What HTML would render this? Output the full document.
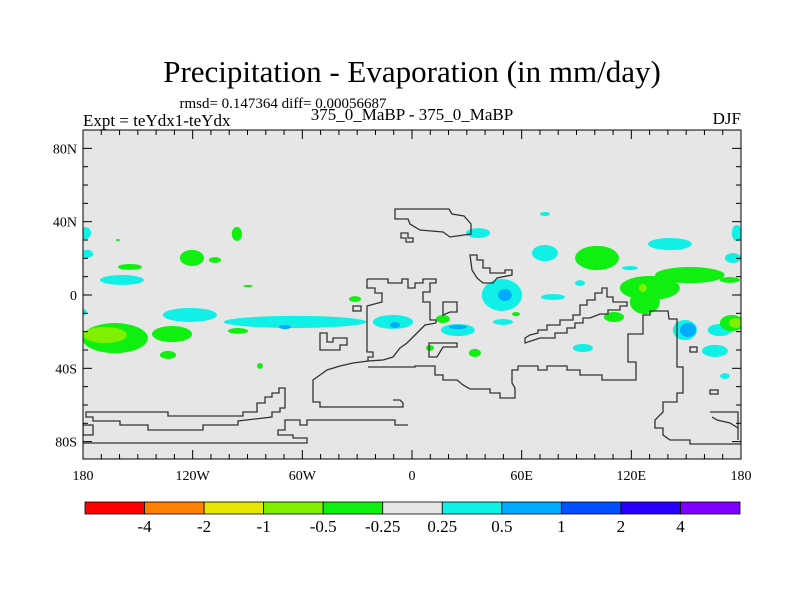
<!DOCTYPE html>
<html><head><meta charset="utf-8">
<style>
body{margin:0;background:#fff;}
svg{display:block;font-family:"Liberation Serif",serif;}
</style></head>
<body>
<svg id="chart" width="800" height="600" viewBox="0 0 800 600">
<rect x="0" y="0" width="800" height="600" fill="#fff"/>
<text x="412" y="82" font-size="31" text-anchor="middle">Precipitation - Evaporation (in mm/day)</text>
<text x="283" y="108" font-size="15" text-anchor="middle">rmsd= 0.147364 diff= 0.00056687</text>
<text x="83" y="126" font-size="17">Expt = teYdx1-teYdx</text>
<text x="412" y="120" font-size="17" text-anchor="middle">375_0_MaBP - 375_0_MaBP</text>
<text x="741" y="124" font-size="17" text-anchor="end">DJF</text>
<defs><clipPath id="pc"><rect x="83" y="130" width="658" height="329"/></clipPath></defs>
<rect x="83" y="130" width="658" height="329" fill="#e6e6e6"/>
<g id="blobs" clip-path="url(#pc)"></g>
<g fill="none" stroke="#333" stroke-width="1.3" clip-path="url(#pc)">
<polygon points="395,209 449,209 452,214 464,216 471,224 471,234 450,237 443,232 420,230 410,224 408,219 395,219"/>
<polygon points="401,233 408,233 408,238 413,238 413,242 406,242 406,238 401,238"/>
<polyline points="436,323 425,325 418,332 413,337 407,343 400,348 393,357 383,360 368,361"/>
<polyline points="367,279 388,279 388,283 402,283 402,279 408,279 408,288 415,288 415,283 423,283 423,279 436,279 436,283 430,283 430,292 423,292 423,302 430,302 430,320 436,320 436,323"/>
<polyline points="367,279 367,288 375,288 375,293 382,293 382,302 367,306 367,352 373,352 373,357 368,357 368,361 353,363 340,366 327,370 320,375 313,380 313,402 320,402 320,407 403,407 403,403 400,400 393,400"/>
<polyline points="368,367 415,367 415,366 435,366 435,375 443,375 443,380 457,380 463,385 470,389 490,389 490,393 500,393 500,398 515,398 515,388 512,383 512,370 518,370 518,366 538,366 538,370 547,370 547,366 567,366 567,370 580,370 580,375 602,375 602,380 636,380 636,362 628,362 628,334 643,334 643,315 650,315 650,311 668,311 669,319 677,319 677,367 683,367 683,393 677,393 677,402 663,402 663,412 655,420 655,428 663,428 663,435 670,440 690,440 690,444 742,444"/>
<polygon points="525,338 530,335 538,333 538,330 547,330 547,325 560,325 560,320 573,320 573,315 580,315 580,305 587,305 587,300 595,300 595,293 602,293 602,288 607,288 607,297 613,297 613,302 627,302 627,306 620,306 620,310 608,310 608,314 600,314 590,318 583,318 583,323 575,323 575,328 567,328 567,333 555,333 555,338 540,338 525,343"/>
<polygon points="443,302 457,302 457,312 450,312 443,315"/>
<polygon points="429,343 457,343 457,347 443,347 437,357 429,357"/>
<polygon points="470,255 477,255 477,260 483,260 483,268 490,268 490,273 505,273 505,270 512,270 512,275 497,278 493,283 483,283 477,278 472,270"/>
<polygon points="320,333 327,333 327,342 333,342 333,338 347,338 347,345 340,345 340,350 320,350"/>
<rect x="353" y="306" width="8" height="5"/>
<polygon points="86,412 168,412 168,416 243,416 243,412 257,412 257,403 265,403 265,397 272,397 272,393 279,393 279,388 285,388 285,408 280,408 280,412 272,412 272,417 238,421 238,425 203,425 203,430 148,430 148,425 120,425 120,421 93,421 93,417 86,417"/>
<polyline points="408,425 395,425 395,420 307,420 307,425 300,425 300,420 285,420 285,430 278,430 278,435 293,435 293,438 307,438 307,443 83,443"/>
<rect x="83" y="425" width="10" height="10"/>
<polyline points="710,412 738,412 738,440"/>
<polyline points="712,417 717,420 730,423 738,428"/>
<rect x="690" y="347" width="7" height="5"/>
<rect x="710" y="390" width="8" height="4"/>
</g>
<rect x="83" y="130" width="658" height="329" fill="none" stroke="#000" stroke-width="1"/>
<g id="axes" font-size="14"></g>
<g id="cbar"></g>
</svg>
<script>
const lons=[-178.9,-177.8,-160.9,-95.8,-120.4,-107.8,-154.3,-158.7,-89.7,-179.5,-162.5,-168,-131.3,-133.5,-121.5,-64,-69.5,-95.2,-31.2,-10.4,-9.3,-83.2,16.9,25.1,25.1,49.2,50.8,36.1,49.7,34.4,56.9,72.7,9.8,72.7,101.2,141.1,119.2,91.9,77.1,130.1,152,127.4,126.3,173.9,110.5,149.3,151,168.4,175,177.2,165.7,171.2,175.6,177.7,93.5];
const lats=[33.8,22.4,30,33.3,20.2,19.1,15.3,8.2,4.9,-9.3,-23.5,-21.8,-21.3,-32.7,-10.9,-14.7,-17.5,-19.6,-2.2,-14.7,-16.4,-38.7,-13.1,-19.1,-17.5,0,0,33.8,-14.7,-31.6,-10.4,44.2,-28.9,22.9,20.2,27.8,14.7,6.5,-1.1,3.8,10.9,-3.8,3.8,8.2,-12,-19.1,-19.1,-19.1,-15.3,-15.3,-30.5,-44.2,20.2,33.8,-28.9];
const values=[0.35,0.3,-0.3,-0.35,-0.35,-0.3,-0.3,0.35,-0.3,0.3,-0.4,-0.7,-0.4,-0.3,0.35,0.4,0.6,-0.3,-0.3,0.4,0.6,-0.3,-0.35,0.4,0.6,0.45,0.7,0.35,0.3,-0.35,-0.3,0.3,-0.3,0.35,-0.4,0.35,0.3,0.3,0.3,-0.4,-0.4,-0.4,-0.6,-0.3,-0.35,0.4,0.7,0.35,-0.4,-0.7,0.35,0.3,0.35,0.35,0.35];
const lonRad=[3.3,3.3,1.1,2.8,6.6,3.3,6.6,12,2.8,1.6,18,12,11,4.4,14.8,39,3.3,5.5,3.3,11,2.7,1.6,3.8,9.3,4.9,11,3.8,6.6,5.5,3.3,2.2,2.7,2.2,7.1,12,12,4.4,2.7,6.6,16.4,19,8.2,2.2,5.5,5.5,6.6,4.4,6.6,6.6,3.8,7.1,2.7,4.4,2.7,5.5];
const latRad=[3.3,2.2,.55,3.8,4.4,1.6,1.6,2.7,.6,1.6,8.2,4.4,4.4,2.2,3.8,3.3,1.1,1.6,1.6,3.8,1.6,1.6,2.2,3.3,1.1,8.7,3.3,2.7,1.6,2.2,1.1,1.1,1.6,4.4,6.6,3.3,1.1,1.6,1.6,6.6,4.4,6.6,2.2,1.6,2.7,5.5,3.8,3.3,4.4,2.7,3.3,1.6,2.7,4.4,2.2];
const levels=[-4,-2,-1,-0.5,-0.25,0.25,0.5,1,2,4];
const levelLabels=["-4","-2","-1","-0.5","-0.25","0.25","0.5","1","2","4"];
const colors=["#ff0000","#ff8000","#e6e600","#80f000","#10f010","#e6e6e6","#10f0e6","#00aaff","#0050ff","#2800ff","#8000ff"];
const xTickLons=[-180,-120,-60,0,60,120,180];
const xTickLabels=["180","120W","60W","0","60E","120E","180"];
const yTickLats=[80,40,0,-40,-80];
const yTickLabels=["80N","40N","0","40S","80S"];

const NS="http://www.w3.org/2000/svg";
const X0=83,X1=741,Y0=130,Y1=459;
const xs=lon=>X0+(lon+180)*(X1-X0)/360;
const ys=lat=>295-lat*1.833;
const kx=(X1-X0)/360, ky=1.833;
function colorFor(v){let i=0;while(i<levels.length&&v>=levels[i])i++;return colors[i];}
function mk(tag,attrs,parent){const e=document.createElementNS(NS,tag);for(const k in attrs)e.setAttribute(k,attrs[k]);parent.appendChild(e);return e;}

const bg=document.getElementById('blobs');
const order=values.map((v,i)=>i).sort((a,b)=>Math.abs(values[a])-Math.abs(values[b]));
order.forEach(i=>{
  const e=mk('ellipse',{cx:xs(lons[i]),cy:ys(lats[i]),rx:lonRad[i]*kx,ry:latRad[i]*ky,fill:colorFor(values[i])},bg);
  
  
});

const ax=document.getElementById('axes');
for(let lon=-180;lon<=180;lon+=10){
  const major=lon%60===0, L=major?9:5;
  mk('line',{x1:xs(lon),x2:xs(lon),y1:Y1,y2:Y1-L,stroke:'#000'},ax);
  mk('line',{x1:xs(lon),x2:xs(lon),y1:Y0,y2:Y0+L,stroke:'#000'},ax);
}
for(let lat=-80;lat<=90;lat+=10){
  const major=lat%40===0, L=major?9:5;
  mk('line',{x1:X0,x2:X0+L,y1:ys(lat),y2:ys(lat),stroke:'#000'},ax);
  mk('line',{x1:X1,x2:X1-L,y1:ys(lat),y2:ys(lat),stroke:'#000'},ax);
}
xTickLons.forEach((lon,i)=>{
  const t=mk('text',{x:xs(lon),y:480,'text-anchor':'middle'},ax);t.textContent=xTickLabels[i];
  
  
});
yTickLats.forEach((lat,i)=>{
  const t=mk('text',{x:77,y:ys(lat)+5,'text-anchor':'end'},ax);t.textContent=yTickLabels[i];
  
  
});

const cb=document.getElementById('cbar');
const CB0=85,CBW=(740-85)/colors.length;
colors.forEach((c,i)=>{
  const r=mk('rect',{x:CB0+i*CBW,y:502,width:CBW,height:12,fill:c,stroke:'#000','stroke-width':0.8},cb);
  
  
});
levelLabels.forEach((s,i)=>{
  const t=mk('text',{x:CB0+(i+1)*CBW,y:532,'text-anchor':'middle','font-size':17},cb);t.textContent=s;
  
  
});
</script>
</body></html>
